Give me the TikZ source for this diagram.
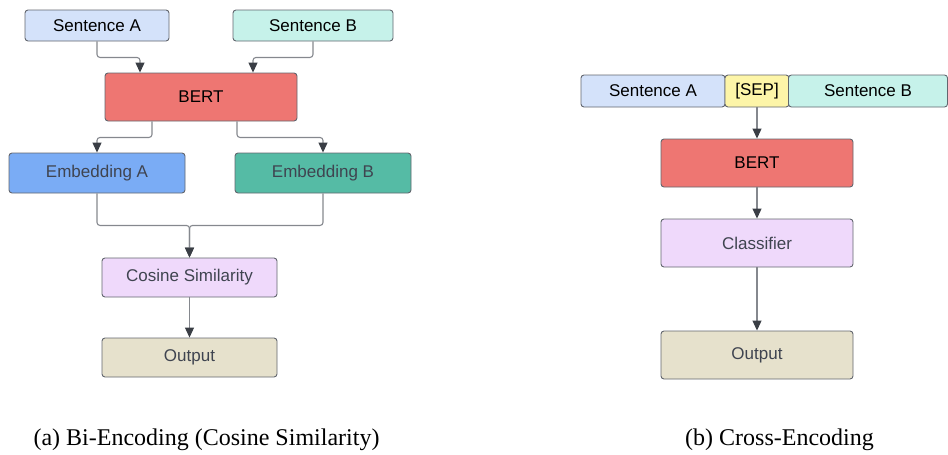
\documentclass[tikz,border=0pt]{standalone}
\usepackage{fontspec}
\setmainfont{Liberation Serif}
\setsansfont{Liberation Sans}
\usetikzlibrary{arrows.meta}

\definecolor{sentA}{HTML}{D4E2FA}
\definecolor{sentB}{HTML}{C6F2EA}
\definecolor{sepc}{HTML}{FDF5A8}
\definecolor{bertc}{HTML}{EE7672}
\definecolor{embA}{HTML}{7AACF5}
\definecolor{embB}{HTML}{55BBA5}
\definecolor{cosc}{HTML}{EFD9FB}
\definecolor{outc}{HTML}{E6E1CC}
\definecolor{edgec}{HTML}{62666E}
\definecolor{linec}{HTML}{85888E}
\definecolor{tipc}{HTML}{3A3E45}
\definecolor{textc}{HTML}{3F4450}

\tikzset{
  box/.style={draw=edgec,line width=0.9pt,rounded corners=3pt,
    font=\sffamily\fontsize{17}{20}\selectfont,inner sep=0pt},
  conn/.style={draw=linec,line width=1.1pt,rounded corners=3pt,
    -{Triangle[length=10pt,width=9pt,color=tipc]}},
  caption/.style={font=\fontsize{24}{27}\selectfont}
}

\begin{document}
\begin{tikzpicture}[x=1pt,y=-1pt]
  \useasboundingbox (0,0) rectangle (948,455);

  % (a) bi-encoding
  \begin{scope}
    \node[box,fill=sentA,minimum width=144pt,minimum height=31pt] (sa) at (97,25.5) {Sentence A};
    \node[box,fill=sentB,minimum width=160pt,minimum height=31pt] (sb) at (313,25.5) {Sentence B};
    \node[box,fill=bertc,minimum width=192pt,minimum height=48pt] (bert) at (201,97) {BERT};
    \node[box,fill=embA,text=textc,minimum width=176pt,minimum height=40pt] (ea) at (97,173) {Embedding A};
    \node[box,fill=embB,text=textc,minimum width=176pt,minimum height=40pt] (eb) at (323,173) {Embedding B};
    \node[box,fill=cosc,text=textc,minimum width=175pt,minimum height=39pt] (cos) at (189.5,277.5) {Cosine Similarity};
    \node[box,fill=outc,text=textc,minimum width=175pt,minimum height=39pt] (out) at (189.5,357.5) {Output};
  \end{scope}

  \draw[conn] (sa.south) -- ++(0,16) -| ([xshift=-61pt]bert.north);
  \draw[conn] (sb.south) -- ++(0,16) -| ([xshift=52pt]bert.north);
  \draw[conn] ([xshift=-49pt]bert.south) -- ++(0,16) -| (ea.north);
  \draw[conn] ([xshift=36pt]bert.south) -- ++(0,16) -| (eb.north);
  \draw[conn] (ea.south) -- ++(0,32) -| (cos.north);
  \draw[conn] (eb.south) -- ++(0,32) -| (cos.north);
  \draw[conn] (cos) -- (out);

  % (b) cross-encoding
  \begin{scope}
    \node[box,fill=sentA,minimum width=144pt,minimum height=32pt] (xa) at (653,91) {Sentence A};
    \node[box,fill=sepc,minimum width=64pt,minimum height=32pt] (sep) at (757,91) {[SEP]};
    \node[box,fill=sentB,minimum width=159pt,minimum height=32pt] (xb) at (868,91) {Sentence B};
    \node[box,fill=bertc,minimum width=192pt,minimum height=48pt] (bert2) at (757,163) {BERT};
    \node[box,fill=cosc,text=textc,minimum width=192pt,minimum height=48pt] (cls) at (757,243) {Classifier};
    \node[box,fill=outc,text=textc,minimum width=192pt,minimum height=48pt] (out2) at (757,355) {Output};
  \end{scope}

  \draw[conn] (sep) -- (bert2);
  \draw[conn] (bert2) -- (cls);
  \draw[conn] (cls) -- (out2);

  \node[caption] (capa) at (206.5,440) {(a) Bi-Encoding (Cosine Similarity)};
  \node[caption] (capb) at (779.5,440) {(b) Cross-Encoding};
\end{tikzpicture}
\end{document}
